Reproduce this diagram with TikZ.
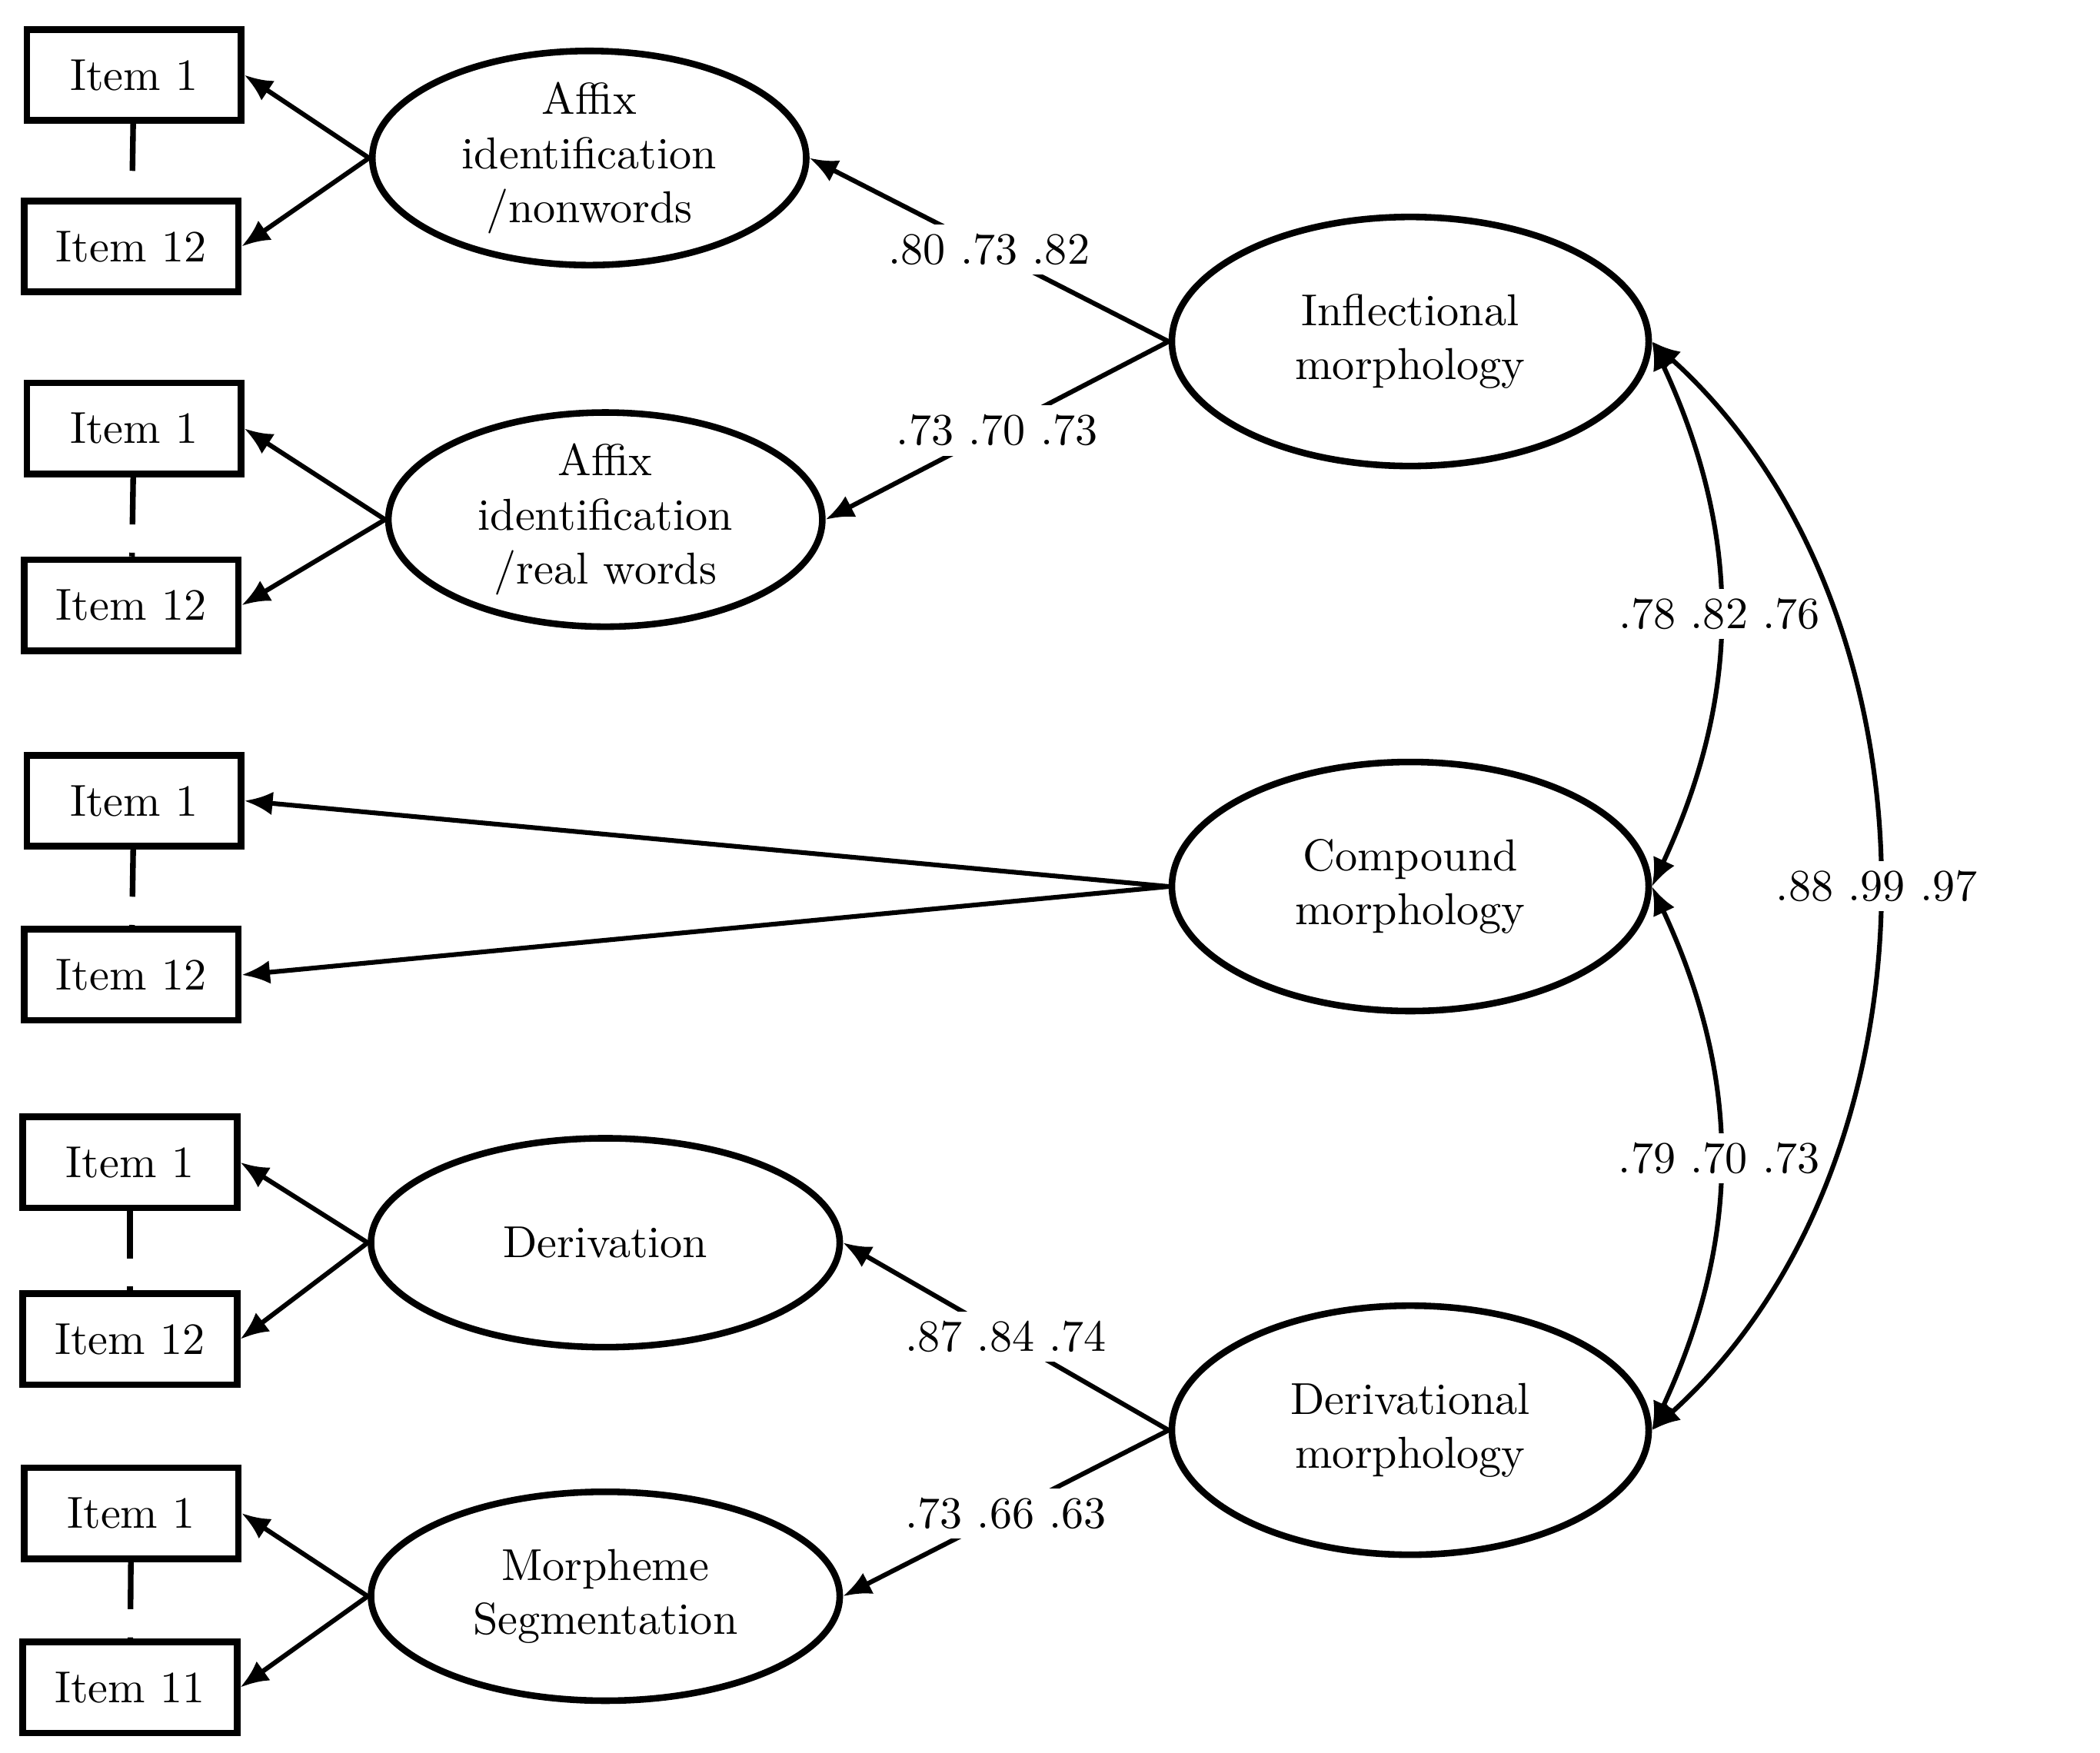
\documentclass[tikz,border=0pt]{standalone}
\usepackage{tikz}
\usetikzlibrary{arrows.meta,positioning,shapes.geometric}
\tikzset{
  item/.style={draw,line width=1.4pt,minimum width=1.6cm,minimum height=0.68cm,inner sep=0pt,font=\fontsize{9.5}{11}\selectfont},
  lat/.style={draw,ellipse,line width=1.4pt,align=center,inner sep=0pt,font=\fontsize{9.5}{11.5}\selectfont},
  load/.style={-{Latex[length=6pt,width=5pt]},line width=1pt},
  cov/.style={{Latex[length=6pt,width=5pt]}-{Latex[length=6pt,width=5pt]},line width=1pt},
  lab/.style={fill=white,inner sep=2pt,font=\fontsize{9.5}{11}\selectfont}
}
\begin{document}
\begin{tikzpicture}[x=0.1mm,y=-0.1mm]
\useasboundingbox (0,0) rectangle (1568,1309);
% items
\node[item] (a1) at (100,56) {Item 1};
\node[item] (a12) at (98,184) {Item 12};
\node[item] (b1) at (100,320) {Item 1};
\node[item] (b12) at (98,452) {Item 12};
\node[item] (c1) at (100,598) {Item 1};
\node[item] (c12) at (98,728) {Item 12};
\node[item] (d1) at (97,868) {Item 1};
\node[item] (d12) at (97,1000) {Item 12};
\node[item] (e1) at (98,1130) {Item 1};
\node[item] (e11) at (97,1260) {Item 11};
% first order factors
\node[lat,minimum width=3.24cm,minimum height=1.56cm] (nonw) at (440,118) {Affix\\identification\\/nonwords};
\node[lat,minimum width=3.24cm,minimum height=1.56cm] (realw) at (452,388) {Affix\\identification\\/real words};
\node[lat,minimum width=3.5cm,minimum height=1.56cm] (deriv) at (452,928) {Derivation};
\node[lat,minimum width=3.5cm,minimum height=1.56cm] (seg) at (452,1192) {Morpheme\\Segmentation};
% second order factors
\node[lat,minimum width=3.56cm,minimum height=1.86cm] (infl) at (1053,255) {Inflectional\\morphology};
\node[lat,minimum width=3.56cm,minimum height=1.86cm] (comp) at (1053,662) {Compound\\morphology};
\node[lat,minimum width=3.56cm,minimum height=1.86cm] (dmor) at (1053,1068) {Derivational\\morphology};
% dashed links
\foreach \u/\v in {a1/a12,b1/b12,c1/c12,d1/d12,e1/e11}
  \draw[line width=1.2pt,dash pattern=on 10pt off 6pt] (\u) -- (\v);
% loadings on items
\foreach \f/\u/\v in {nonw/a1/a12,realw/b1/b12,deriv/d1/d12,seg/e1/e11}{
  \draw[load] (\f.west) -- (\u.east);
  \draw[load] (\f.west) -- (\v.east);
}
\draw[load] (comp.west) -- (c1.east);
\draw[load] (comp.west) -- (c12.east);
% loadings on factors
\draw[load] (infl.west) -- node[lab,pos=0.5] {.80 .73 .82} (nonw.east);
\draw[load] (infl.west) -- node[lab,pos=0.5] {.73 .70 .73} (realw.east);
\draw[load] (dmor.west) -- node[lab,pos=0.5] {.87 .84 .74} (deriv.east);
\draw[load] (dmor.west) -- node[lab,pos=0.5] {.73 .66 .63} (seg.east);
% covariances
\draw[cov] (infl.east) to[out=-65,in=65] node[lab] {.78 .82 .76} (comp.east);
\draw[cov] (comp.east) to[out=-65,in=65] node[lab] {.79 .70 .73} (dmor.east);
\draw[cov] (infl.east) to[out=-42,in=42,looseness=0.95] node[lab] {.88 .99 .97} (dmor.east);
\end{tikzpicture}
\end{document}
